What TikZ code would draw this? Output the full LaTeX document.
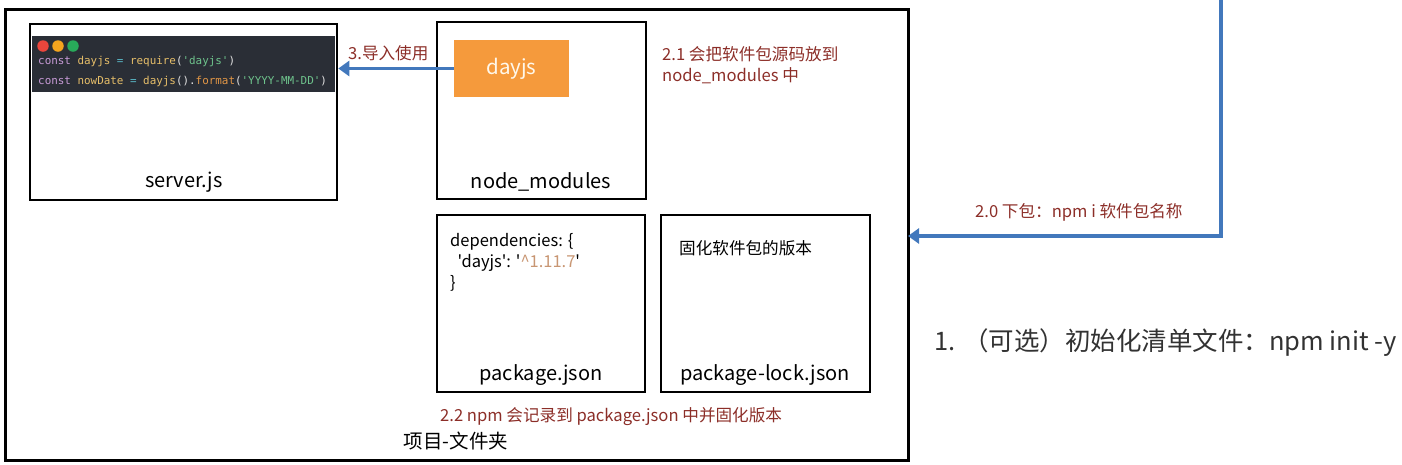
\documentclass[tikz,border=0pt]{standalone}
\usepackage{fontspec}
\setmainfont{Noto Sans CJK SC}
\newfontfamily\plainfont{Noto Sans CJK SC}
\newfontfamily\codefont{DejaVu Sans Mono}
\usetikzlibrary{arrows.meta}
\definecolor{labred}{RGB}{140,46,40}
\definecolor{flowblue}{RGB}{66,120,188}
\definecolor{pkgorange}{RGB}{245,154,60}
\definecolor{codebg}{RGB}{42,46,54}
\definecolor{cpurple}{RGB}{200,155,215}
\definecolor{cyellow}{RGB}{230,190,105}
\definecolor{ccyan}{RGB}{90,185,200}
\definecolor{cgreen}{RGB}{110,195,140}
\definecolor{corange}{RGB}{225,150,70}
\definecolor{cwhite}{RGB}{225,225,225}
\definecolor{vertan}{RGB}{200,150,115}
\definecolor{note}{RGB}{50,50,50}
\tikzset{
  x=1pt, y=-1pt,
  filebox/.style={draw=black, line width=2.6pt},
  boxlabel/.style={font=\fontsize{20}{22}\selectfont, text=black, inner sep=0pt},
  redlabel/.style={font=\fontsize{16.6}{21}\selectfont, text=labred, inner sep=0pt, align=left},
  bluearrow/.style={draw=flowblue, line width=3.5pt, -{Triangle[length=11pt,width=15pt]}},
  codeline/.style={font=\codefont\fontsize{10.9}{13}\selectfont, inner sep=0pt, anchor=west},
  dot/.style={circle, inner sep=0pt, minimum size=11.5pt}
}
\begin{document}
\begin{tikzpicture}
\useasboundingbox (0,0) rectangle (1402,464);
% outer project folder
\draw[line width=3pt] (5,9) rectangle (908,460);
\coordinate (outerE) at (908,236);
\node[inner sep=0pt, font=\fontsize{19.5}{21}\selectfont] (folder) at (456,441) {项目-文件夹};

% server.js
\node[filebox, minimum width=307pt, minimum height=176pt, inner sep=0pt] (server) at (183.5,112) {};
\fill[codebg] (32,36) rectangle (335,92);
\node[dot, fill={rgb,255:red,235;green,70;blue,60}] (d1) at (43,46) {};
\node[dot, fill={rgb,255:red,245;green,165;blue,30}] (d2) at (58,46) {};
\node[dot, fill={rgb,255:red,40;green,170;blue,90}] (d3) at (73,46) {};
\node[codeline] (code1) at (38,62) {\textcolor{cpurple}{const} \textcolor{cyellow}{dayjs} \textcolor{ccyan}{=} \textcolor{cyellow}{require}\textcolor{cwhite}{(}\textcolor{cgreen}{'dayjs'}\textcolor{cwhite}{)}};
\node[codeline] (code2) at (38,81) {\textcolor{cpurple}{const} \textcolor{cyellow}{nowDate} \textcolor{ccyan}{=} \textcolor{cyellow}{dayjs}\textcolor{cwhite}{().}\textcolor{corange}{format}\textcolor{cwhite}{(}\textcolor{cgreen}{'YYYY-MM-DD'}\textcolor{cwhite}{)}};
\node[boxlabel] (serverlbl) at (184,182) {server.js};

% node_modules
\node[filebox, minimum width=209pt, minimum height=177pt, inner sep=0pt] (nodemod) at (541.5,110.5) {};
\node[fill=pkgorange, minimum width=115pt, minimum height=57pt, inner sep=0pt, text={rgb,255:red,255;green,248;blue,235}, font=\fontsize{20.5}{22}\selectfont] (dayjs) at (511.5,68.5) {dayjs};
\node[boxlabel] (nodemodlbl) at (541,182) {node\_modules};

% package.json
\node[filebox, minimum width=208pt, minimum height=177pt, inner sep=0pt] (pkg) at (541,303.5) {};
\node[inner sep=0pt, anchor=north west, align=left, font=\plainfont\fontsize{16.5}{21}\selectfont] (deps) at (450,233) {dependencies: \{\\\ \ 'dayjs': '\textcolor{vertan}{\textasciicircum 1.11.7}'\\\}};
\node[boxlabel] (pkglbl) at (541,375) {package.json};

% package-lock.json
\node[filebox, minimum width=209pt, minimum height=177pt, inner sep=0pt] (lock) at (765.5,303.5) {};
\node[inner sep=0pt, anchor=west, font=\fontsize{16.6}{18}\selectfont] (locktxt) at (679,248) {固化软件包的版本};
\node[boxlabel] (locklbl) at (765,375) {package-lock.json};

% labels
\node[redlabel, anchor=west] (l3) at (348,53) {3.导入使用};
\node[redlabel, anchor=north west] (l21) at (662,46) {2.1 会把软件包源码放到\\node\_modules 中};
\node[redlabel, anchor=west] (l22) at (440,417) {2.2 npm 会记录到 package.json 中并固化版本};
\node[redlabel, anchor=west] (l20) at (975,212) {2.0 下包：npm i 软件包名称};
\node[inner sep=0pt, anchor=west, text=note, font=\fontsize{25.5}{27}\selectfont] (step1) at (934,343) {1. （可选）初始化清单文件：npm init -y};

% arrows
\draw[bluearrow] (dayjs.west) -- (dayjs.west -| server.east);
\coordinate (top) at (1221,0);
\coordinate (corner) at (1221,236);
\draw[bluearrow] (top) -- (corner) -- (outerE);
\end{tikzpicture}
\end{document}
